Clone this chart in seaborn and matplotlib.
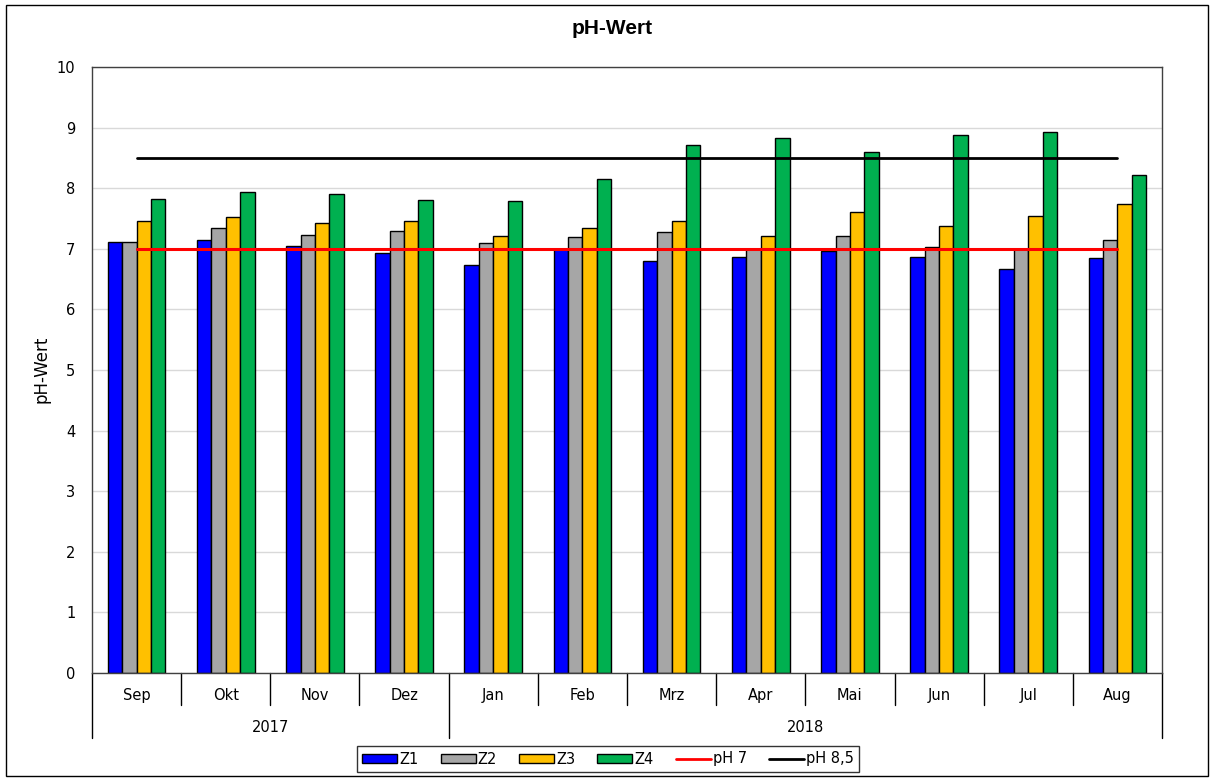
import numpy as np
import pandas as pd
import matplotlib
matplotlib.use("Agg")
import matplotlib.pyplot as plt
import matplotlib.transforms as mtransforms
from matplotlib.patches import Patch, Rectangle
from matplotlib.lines import Line2D
import seaborn as sns

# Daten (pH-Werte je Messstelle, Sep 2017 - Aug 2018)
monate = ["Sep", "Okt", "Nov", "Dez", "Jan", "Feb", "Mrz", "Apr", "Mai", "Jun", "Jul", "Aug"]
jahre = ["2017", "2018"]
monate_pro_jahr = [4, 8]
z1 = [7.11, 7.15, 7.05, 6.93, 6.74, 6.99, 6.80, 6.87, 6.97, 6.87, 6.66, 6.85]
z2 = [7.11, 7.35, 7.23, 7.30, 7.09, 7.19, 7.27, 7.00, 7.21, 7.03, 7.00, 7.15]
z3 = [7.46, 7.52, 7.43, 7.46, 7.21, 7.35, 7.46, 7.21, 7.61, 7.37, 7.54, 7.74]
z4 = [7.83, 7.93, 7.91, 7.80, 7.79, 8.15, 8.72, 8.83, 8.60, 8.87, 8.93, 8.21]
ph7 = [7.0] * 12
ph85 = [8.5] * 12

farben = {"Z1": "#0000FF", "Z2": "#A6A6A6", "Z3": "#FFC000", "Z4": "#00B050"}

df = pd.DataFrame({"Monat": monate, "Z1": z1, "Z2": z2, "Z3": z3, "Z4": z4})
df = df.melt(id_vars="Monat", var_name="Messstelle", value_name="pH")

sns.set_style("white")
plt.rcParams["font.family"] = ["DejaVu Sans"]
plt.rcParams["text.color"] = "black"
plt.rcParams["xtick.color"] = "black"
plt.rcParams["ytick.color"] = "black"

W, H = 1213, 781
fig = plt.figure(figsize=(W / 100, H / 100), dpi=100)
ax = fig.add_axes([92 / W, 1 - 673 / H, (1162 - 92) / W, (673 - 67) / H])

sns.barplot(data=df, x="Monat", y="pH", hue="Messstelle", order=monate,
            palette=farben, width=0.646, edgecolor="black", linewidth=1,
            saturation=1, ax=ax, legend=False, zorder=2)

xs = np.arange(len(monate))
ax.plot(xs, ph7, color="#FF0000", lw=2.2, zorder=3)
ax.plot(xs, ph85, color="black", lw=2.0, zorder=3)

ax.set_xlim(-0.5, len(monate) - 0.5)
ax.set_ylim(0, 10)
ax.set_yticks(range(0, 11))
ax.yaxis.grid(True, color="#D9D9D9", lw=1)
ax.set_axisbelow(True)
ax.set_xlabel("")
ax.set_ylabel("")
for s in ax.spines.values():
    s.set_visible(True)
    s.set_color("#404040")
    s.set_linewidth(1)
ax.tick_params(axis="y", length=0, pad=12, labelsize=10.5, labelcolor="black")
ax.tick_params(axis="x", length=0, pad=11, labelsize=10.5, labelcolor="black")

# mehrstufige Kategorienachse
trans = mtransforms.blended_transform_factory(ax.transData, ax.transAxes)
h_monat = 32 / 606
h_jahr = 65 / 606
grenzen = np.cumsum([0] + monate_pro_jahr) - 0.5
for i in range(len(monate) + 1):
    x = i - 0.5
    tief = h_jahr if x in grenzen else h_monat
    ax.plot([x, x], [0, -tief], transform=trans, color="black", lw=1, clip_on=False)
for j, jahr in enumerate(jahre):
    mitte = (grenzen[j] + grenzen[j + 1]) / 2
    ax.text(mitte, -(727 - 673) / 606, jahr, transform=trans, ha="center", va="center",
            fontsize=10.5, color="black")

fig.text(612 / W, 1 - 28 / H, "pH-Wert", ha="center", va="center", fontsize=15,
         fontweight="bold", family=["Liberation Sans", "DejaVu Sans"], color="black")
fig.text(42 / W, 1 - 369 / H, "pH-Wert", ha="center", va="center", rotation=90,
         fontsize=12, color="black")

handles = [Patch(facecolor=farben[k], edgecolor="black", lw=1) for k in farben]
handles += [Line2D([], [], color="#FF0000", lw=2), Line2D([], [], color="black", lw=2)]
labels = list(farben) + ["pH 7", "pH 8,5"]
leg = fig.legend(handles, labels, loc="center", bbox_to_anchor=(608 / W, 1 - 759 / H),
                 ncol=6, frameon=True, fancybox=False, edgecolor="black", fontsize=10.5,
                 handlelength=2.4, handleheight=0.6, handletextpad=0.15, columnspacing=1.5,
                 borderpad=0.35)
leg.get_frame().set_linewidth(1)

fig.add_artist(Rectangle((6 / W, 1 - 776 / H), 1202 / W, 771 / H, transform=fig.transFigure,
                         fill=False, edgecolor="black", lw=1))

fig.savefig("out.png", dpi=100)
